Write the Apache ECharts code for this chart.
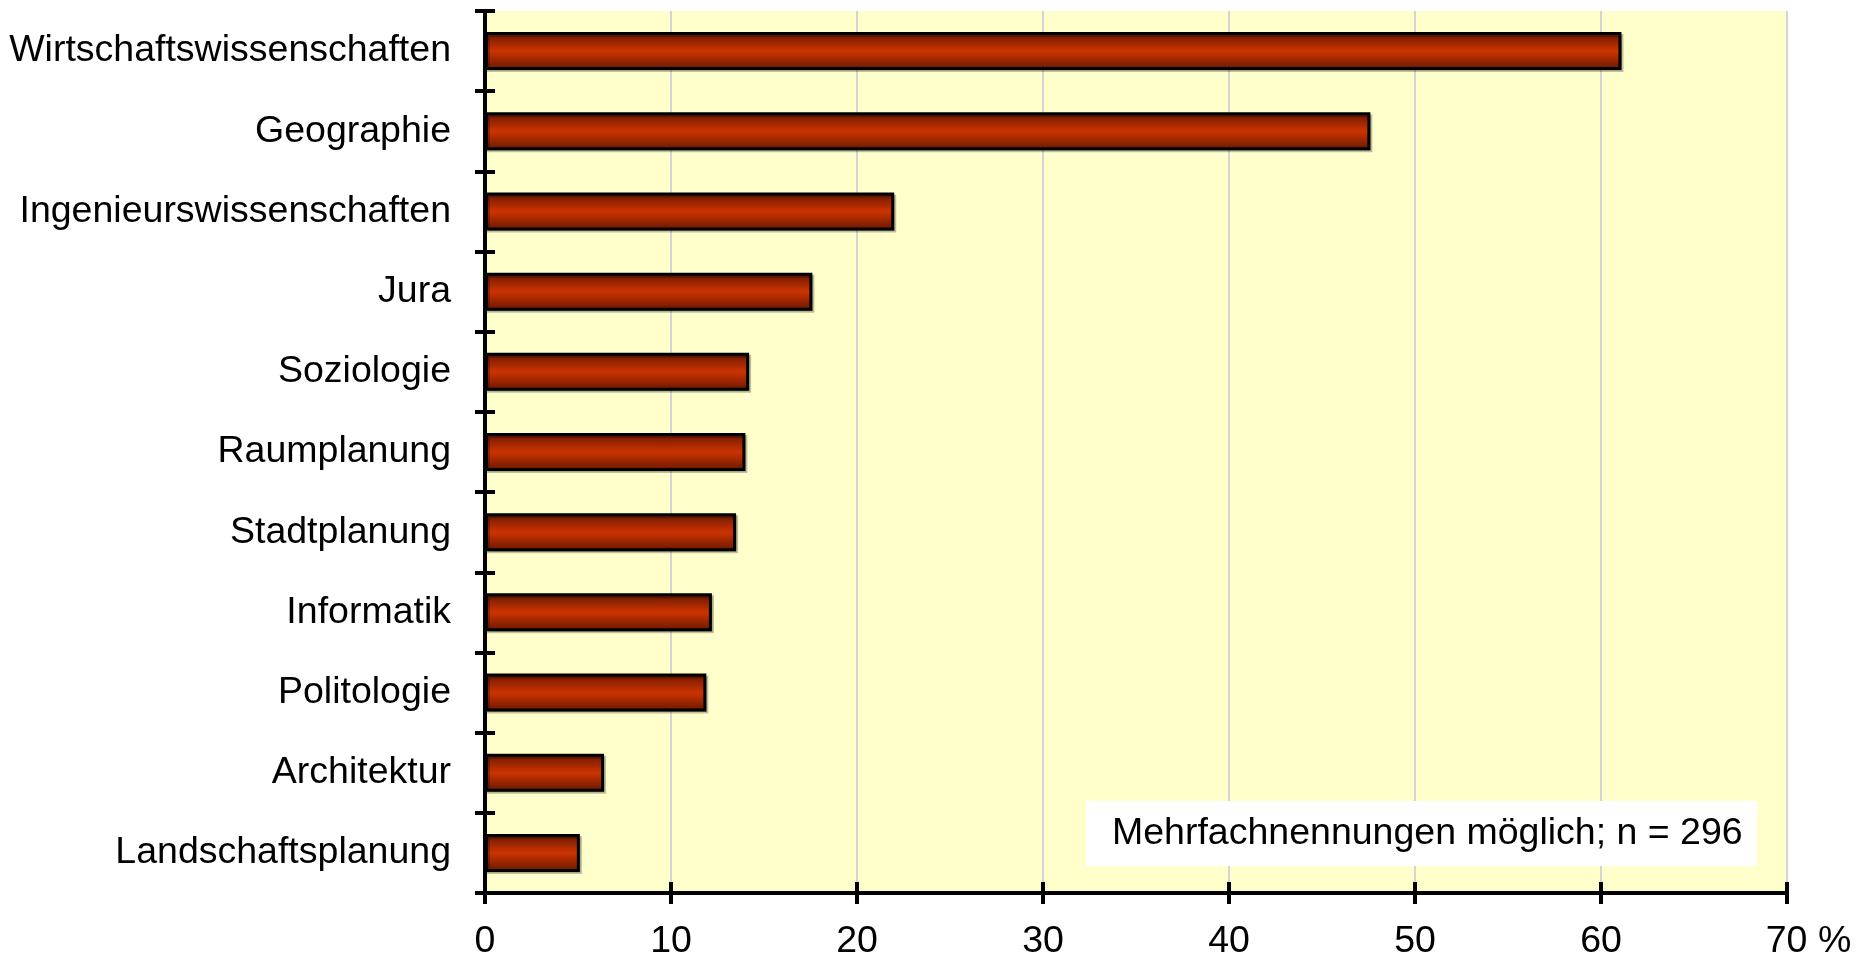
<!DOCTYPE html>
<html>
<head>
<meta charset="utf-8">
<script src="https://cdn.jsdelivr.net/npm/echarts@6/dist/echarts.min.js"></script>
<style>
html,body{margin:0;padding:0;background:#fff;}
#chart{width:1874px;height:961px;}
</style>
</head>
<body>
<div id="chart"></div>
<script>
// Fachrichtungen, Anteil in %
var faecher = ['Wirtschaftswissenschaften','Geographie','Ingenieurswissenschaften','Jura','Soziologie',
  'Raumplanung','Stadtplanung','Informatik','Politologie','Architektur','Landschaftsplanung']
var anteile = [61.1, 47.6, 22.0, 17.6, 14.2, 14.0, 13.5, 12.2, 11.9, 6.4, 5.1]
var achseMax = 70
var achseSchritt = 10
var hinweis = 'Mehrfachnennungen möglich; n = 296'

var schrift = '"Liberation Sans", Arial, sans-serif'
var myChart = echarts.init(document.getElementById('chart'))

var option = {
  animation:false,
  grid:{
    left:485, right:87, top:11, bottom:64,
    show:true, backgroundColor:'#FFFFCC', borderWidth:0
  },
  xAxis:[{
    type:'value', min:0, max:achseMax, interval:achseSchritt,
    axisLine:{show:true, lineStyle:{color:'#000', width:4}},
    axisTick:{show:true, length:11, lineStyle:{color:'#000', width:4}},
    axisLabel:{
      color:'#000', fontSize:37.5, fontFamily:schrift, margin:30,
      formatter:function(v){ return v === achseMax ? '{p|}' + v + ' %' : String(v) },
      rich:{p:{width:43}}
    },
    splitLine:{show:true, lineStyle:{color:'#D4D4D4', width:2}}
  },{
    // zweite Achse nur für die nach innen zeigenden Striche
    type:'value', min:0, max:achseMax, interval:achseSchritt, position:'bottom', offset:0,
    axisLine:{show:false},
    axisTick:{show:true, inside:true, length:11, lineStyle:{color:'#000', width:4}},
    axisLabel:{show:false},
    splitLine:{show:false}
  }],
  yAxis:[{
    type:'category', data:faecher, inverse:true,
    axisLine:{show:true, lineStyle:{color:'#000', width:4}},
    axisTick:{show:true, length:10, lineStyle:{color:'#000', width:4}},
    axisLabel:{color:'#000', fontSize:37.5, fontFamily:schrift, margin:34}
  },{
    type:'category', data:faecher, inverse:true, position:'left', offset:0,
    axisLine:{show:false},
    axisTick:{show:true, inside:true, length:10, lineStyle:{color:'#000', width:4}},
    axisLabel:{show:false}
  }],
  series:[{
    type:'bar',
    data:anteile,
    xAxisIndex:0, yAxisIndex:0,
    barWidth:38,
    itemStyle:{
      color:new echarts.graphic.LinearGradient(0,0,0,1,[
        {offset:0, color:'#661700'},
        {offset:0.5, color:'#cc3300'},
        {offset:1, color:'#661700'}
      ]),
      borderColor:'#000', borderWidth:3,
      shadowColor:'rgba(0,0,0,0.25)', shadowOffsetX:2, shadowOffsetY:2
    }
  }],
  graphic:[{
    type:'group', right:117, bottom:95, z:100,
    children:[{
      type:'rect', z:100, shape:{x:0, y:0, width:671, height:65},
      style:{fill:'#fff'}
    },{
      type:'text', z:101, x:26, y:33,
      style:{text:hinweis, font:'37.5px ' + schrift, fill:'#000', verticalAlign:'middle'}
    }]
  }]
}

myChart.setOption(option)
window.addEventListener('resize',()=>{
  myChart.resize()
})
</script>
</body>
</html>
